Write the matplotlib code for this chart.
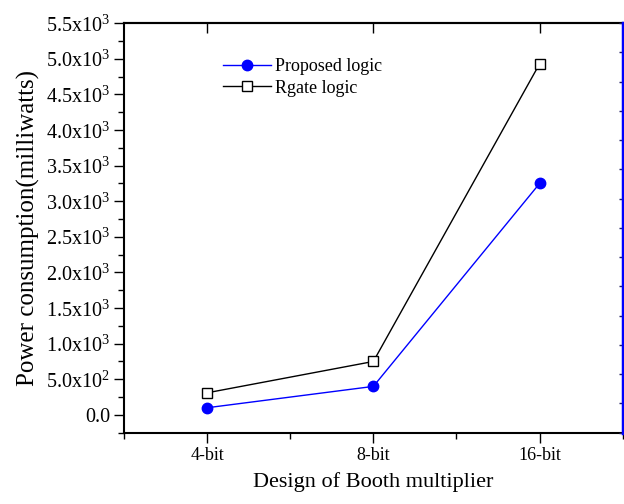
import math
import matplotlib
matplotlib.use("Agg")
import matplotlib.pyplot as plt
from matplotlib.ticker import FixedLocator, MultipleLocator, FuncFormatter

categories = ["4-bit", "8-bit", "16-bit"]
proposed = [100, 400, 3250]
rgate = [310, 750, 4930]

plt.rcParams['font.family'] = ['Liberation Serif', 'DejaVu Serif']
plt.rcParams['mathtext.fontset'] = 'custom'
plt.rcParams['mathtext.rm'] = 'Liberation Serif'

fig = plt.figure(figsize=(6.24, 5.04), dpi=100)
ax = fig.add_axes([0.1987, 0.1415, 0.7993, 0.8125])

x = list(range(1, len(categories) + 1))
ax.plot(x, proposed, color='blue', lw=1, marker='o', ms=7.5,
        mfc='blue', mec='blue', label='Proposed logic')
ax.plot(x, rgate, color='black', lw=1, marker='s', ms=6.5,
        mfc='white', mec='black', mew=1, label='Rgate logic')

ax.set_xlim(0.5, 3.5)
ax.set_ylim(-250, 5500)
ax.set_xticks(x)
ax.set_xticklabels(categories, fontsize=13)
ax.xaxis.set_minor_locator(FixedLocator([0.5, 1.5, 2.5, 3.5]))
ax.yaxis.set_major_locator(MultipleLocator(500))
ax.yaxis.set_minor_locator(MultipleLocator(250))

def fmt(v, pos):
    if abs(v) < 1e-9:
        return "0.0"
    e = int(math.floor(math.log10(abs(v))))
    m = v / 10**e
    return r"%.1fx10$^{%d}$" % (m, e)

ax.yaxis.set_major_formatter(FuncFormatter(fmt))
ax.tick_params(axis='y', labelsize=14.5)
ax.tick_params(axis='both', which='major', direction='out', length=7, width=1, pad=3)
ax.tick_params(axis='both', which='minor', direction='out', length=4, width=1)
ax.xaxis.set_ticks_position('bottom')

sec = ax.secondary_xaxis('top')
sec.set_xticks(x)
sec.set_xticklabels([])
sec.xaxis.set_minor_locator(FixedLocator([1.5, 2.5]))
sec.tick_params(which='major', direction='in', length=7, width=1)
sec.tick_params(which='minor', direction='in', length=0)
sec.spines['top'].set_linewidth(1.5)

for s in ['left', 'bottom', 'top']:
    ax.spines[s].set_linewidth(1.5)
ax.spines['right'].set_visible(False)

ax2 = ax.twinx()
ax2.set_ylim(0, 14)
ax2.yaxis.set_major_locator(MultipleLocator(1))
ax2.set_yticklabels([])
ax2.tick_params(axis='y', direction='in', length=3, width=1, color='#222266')
ax2.spines['right'].set_color('blue')
ax2.spines['right'].set_linewidth(2.5)
for s in ['left', 'bottom', 'top']:
    ax2.spines[s].set_visible(False)

ax.set_ylabel("Power consumption(milliwatts)", fontsize=18, labelpad=4)
ax.set_xlabel("Design of Booth multiplier", fontsize=16, labelpad=6)

ax.legend(loc='upper left', bbox_to_anchor=(0.198, 0.915), frameon=False,
          fontsize=13, handlelength=2.7, handletextpad=0.2, labelspacing=0.25,
          borderaxespad=0, borderpad=0)

fig.savefig("out.png", dpi=100)
